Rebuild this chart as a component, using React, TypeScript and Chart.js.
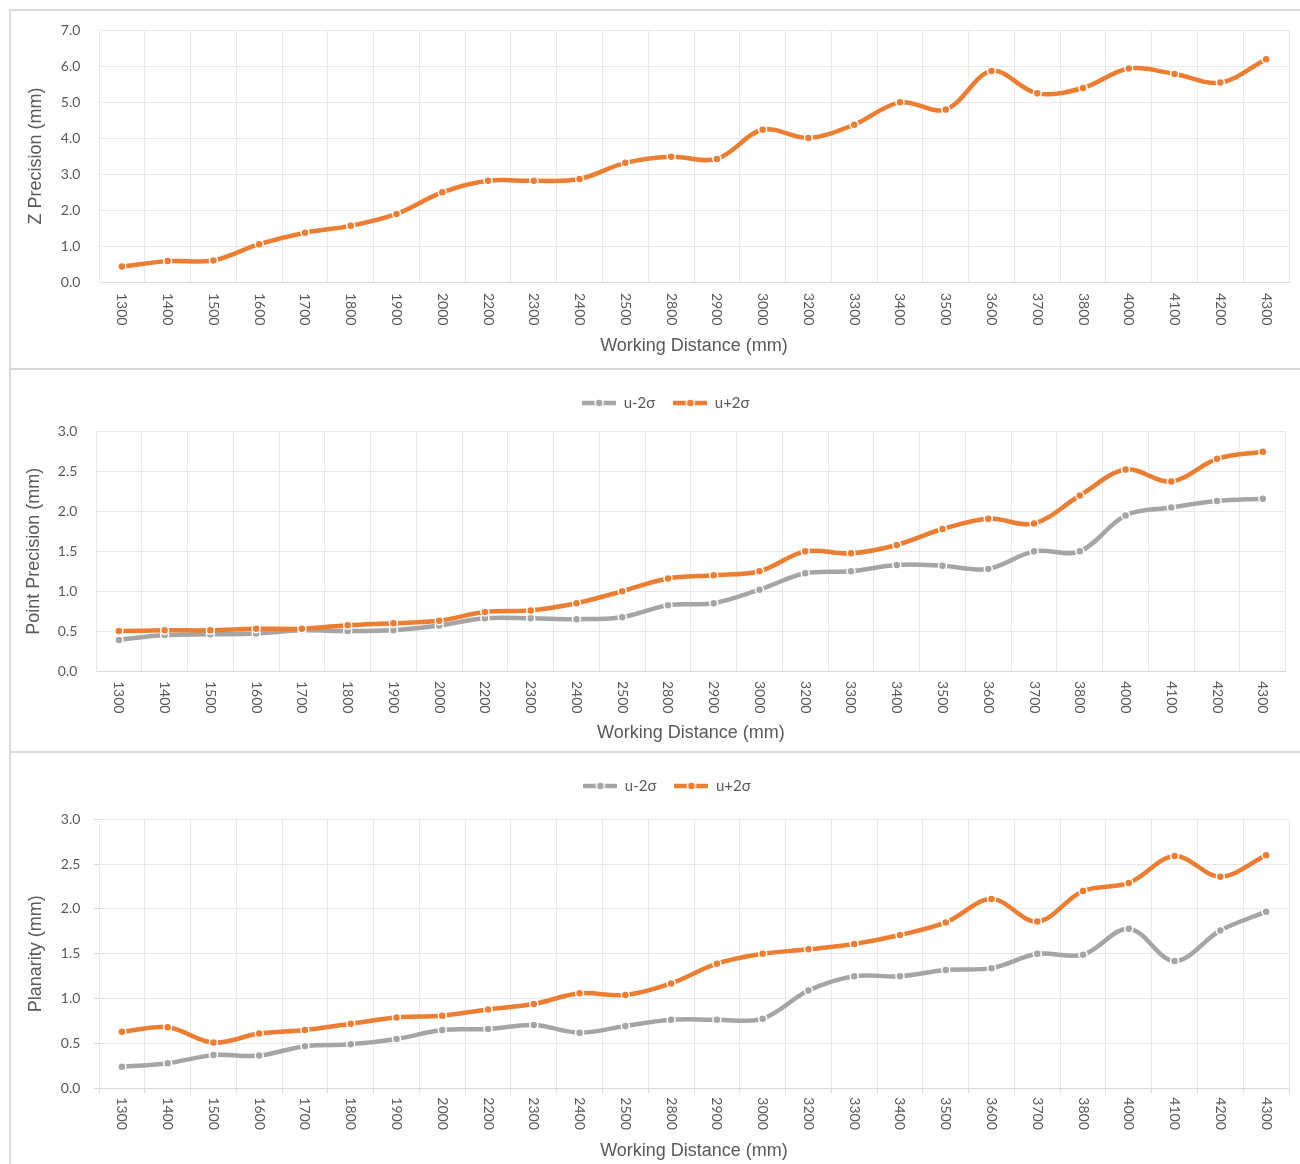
import React, { useEffect, useRef } from 'react';
import { Chart, registerables } from 'chart.js';

Chart.register(...registerables);

const categories = ['1300', '1400', '1500', '1600', '1700', '1800', '1900', '2000', '2200', '2300', '2400', '2500', '2800', '2900', '3000', '3200', '3300', '3400', '3500', '3600', '3700', '3800', '4000', '4100', '4200', '4300'];

const zPrecision = [0.43, 0.58, 0.60, 1.05, 1.37, 1.56, 1.89, 2.49, 2.81, 2.81, 2.86, 3.31, 3.48, 3.42, 4.23, 4.0, 4.37, 4.99, 4.79, 5.86, 5.24, 5.39, 5.93, 5.78, 5.54, 6.19];

const pointLow = [0.39, 0.45, 0.46, 0.47, 0.51, 0.50, 0.51, 0.57, 0.66, 0.66, 0.65, 0.675, 0.825, 0.85, 1.02, 1.225, 1.25, 1.33, 1.32, 1.28, 1.50, 1.50, 1.95, 2.05, 2.13, 2.16];
const pointHigh = [0.50, 0.51, 0.51, 0.53, 0.53, 0.575, 0.60, 0.63, 0.74, 0.76, 0.85, 1.00, 1.16, 1.20, 1.25, 1.50, 1.475, 1.58, 1.78, 1.91, 1.85, 2.20, 2.525, 2.375, 2.66, 2.75];

const planLow = [0.24, 0.28, 0.37, 0.365, 0.47, 0.49, 0.55, 0.65, 0.66, 0.705, 0.62, 0.695, 0.765, 0.765, 0.776, 1.09, 1.25, 1.25, 1.32, 1.34, 1.50, 1.49, 1.78, 1.42, 1.76, 1.97];
const planHigh = [0.63, 0.68, 0.51, 0.61, 0.65, 0.72, 0.79, 0.81, 0.88, 0.94, 1.06, 1.04, 1.17, 1.39, 1.50, 1.55, 1.61, 1.71, 1.85, 2.11, 1.86, 2.20, 2.29, 2.59, 2.36, 2.60];

const seriesNames = ['u-2σ', 'u+2σ'];
const xTitle = 'Working Distance (mm)';

const ORANGE = '#ED7D31';
const GRAY = '#A5A5A5';
const TEXT = '#595959';
const GRID = '#e8e8e8';
const AXIS = '#d9d9d9';

function makeIcon(color: string) {
  const c = document.createElement('canvas');
  c.width = 34;
  c.height = 12;
  const g = c.getContext('2d')!;
  g.strokeStyle = color;
  g.lineWidth = 4.5;
  g.beginPath();
  g.moveTo(0, 6);
  g.lineTo(34, 6);
  g.stroke();
  g.beginPath();
  g.arc(17, 6, 4, 0, Math.PI * 2);
  g.fillStyle = color;
  g.fill();
  g.lineWidth = 1.5;
  g.strokeStyle = '#ffffff';
  g.stroke();
  return c;
}

function lineDataset(label: string, data: number[], color: string, order: number) {
  return {
    label,
    data,
    borderColor: color,
    backgroundColor: color,
    borderWidth: 4.5,
    tension: 0.35,
    fill: false,
    pointRadius: 4,
    pointHoverRadius: 4,
    pointBorderColor: '#ffffff',
    pointBorderWidth: 1.5,
    pointBackgroundColor: color,
    order,
  };
}

type PanelCfg = {
  top: number;
  width: number;
  height: number;
  yTitle: string;
  yMax: number;
  yStep: number;
  datasets: any[];
  legend: boolean;
  padTop: number;
  legendExtra: number;
  legendDx: number;
  yWidth: number;
  rightPad: number;
  xHeight: number;
  xTitlePad: number;
  yTitlePad: number;
  yTickPad: number;
  drawTicks: boolean;
  labelGap: number;
};

const xLabelPlugin = (gap: number) => ({
  id: 'xLabels',
  afterDraw(chart: any) {
    const xs = chart.scales.x;
    const ctx = chart.ctx;
    ctx.save();
    ctx.font = '14px Lato';
    ctx.fillStyle = TEXT;
    ctx.textAlign = 'left';
    ctx.textBaseline = 'middle';
    xs.ticks.forEach((t: any, i: number) => {
      const x = xs.getPixelForTick(i);
      ctx.save();
      ctx.translate(x, chart.chartArea.bottom + gap);
      ctx.rotate(Math.PI / 2);
      ctx.fillText(String(xs.getLabelForValue(t.value)), 0, 0);
      ctx.restore();
    });
    ctx.restore();
  },
});

const legendSpacer = (extra: number, dx: number) => ({
  id: 'legendSpacer',
  afterInit(chart: any) {
    const lg = chart.legend;
    if (!lg || !extra) return;
    const origFit = lg.fit.bind(lg);
    lg.fit = function () {
      origFit();
      this.height += extra;
    };
    const origDraw = lg.draw.bind(lg);
    lg.draw = function () {
      this.left += dx;
      this.right += dx;
      origDraw();
      this.left -= dx;
      this.right -= dx;
    };
  },
});

function ChartPanel({ cfg }: { cfg: PanelCfg }) {
  const ref = useRef<HTMLCanvasElement>(null);
  useEffect(() => {
    if (!ref.current) return;
    const icons = [makeIcon(GRAY), makeIcon(ORANGE)];
    const chart = new Chart(ref.current, {
      type: 'line',
      data: { labels: categories, datasets: cfg.datasets },
      options: {
        animation: false,
        responsive: false,
        maintainAspectRatio: false,
        layout: { padding: { top: cfg.padTop, right: cfg.rightPad, bottom: 0, left: 0 } },
        plugins: {
          legend: {
            display: cfg.legend,
            position: 'top',
            labels: {
              usePointStyle: true,
              pointStyleWidth: 34,
              padding: 18,
              color: TEXT,
              font: { family: 'Lato', size: 15 },
              generateLabels: (ch: any) => {
                const items = (Chart.defaults.plugins.legend.labels as any).generateLabels(ch);
                items.sort((a: any, b: any) => a.datasetIndex - b.datasetIndex);
                items.forEach((it: any) => {
                  it.pointStyle = icons[it.datasetIndex];
                });
                return items;
              },
            },
          },
          tooltip: { enabled: false },
        },
        scales: {
          x: {
            type: 'category',
            offset: true,
            grid: { offset: true, color: GRID, drawTicks: cfg.drawTicks, tickLength: 5, tickColor: AXIS },
            border: { color: AXIS, width: 1 },
            ticks: { display: false },
            title: {
              display: true,
              text: xTitle,
              color: TEXT,
              font: { family: 'Liberation Sans', size: 18 },
              padding: { top: 0, bottom: cfg.xTitlePad },
            },
            afterFit: (s: any) => {
              s.height = cfg.xHeight;
            },
          },
          y: {
            min: 0,
            max: cfg.yMax,
            ticks: {
              stepSize: cfg.yStep,
              color: TEXT,
              font: { family: 'Lato', size: 14 },
              padding: cfg.yTickPad,
              callback: (v: any) => Number(v).toFixed(1),
            },
            grid: { color: GRID, drawTicks: cfg.drawTicks, tickLength: 5, tickColor: AXIS },
            border: { color: GRID, width: 1 },
            title: {
              display: true,
              text: cfg.yTitle,
              color: TEXT,
              font: { family: 'Liberation Sans', size: 18 },
              padding: { top: cfg.yTitlePad, bottom: 0 },
            },
            afterFit: (s: any) => {
              s.width = cfg.yWidth;
              s.paddingTop = 0;
              s.paddingBottom = 0;
            },
          },
        },
      } as any,
      plugins: [xLabelPlugin(cfg.labelGap), legendSpacer(cfg.legendExtra, cfg.legendDx)],
    });
    return () => chart.destroy();
  }, []);
  return (
    <canvas
      ref={ref}
      width={cfg.width}
      height={cfg.height}
      style={{ position: 'absolute', left: 12, top: cfg.top, width: cfg.width, height: cfg.height }}
    />
  );
}

const panels: PanelCfg[] = [
  {
    top: 12, width: 1308, height: 356, yTitle: 'Z Precision (mm)', yMax: 7, yStep: 1,
    datasets: [lineDataset('Z Precision', zPrecision, ORANGE, 0)],
    legend: false, padTop: 18, legendExtra: 0, legendDx: 0, yWidth: 87, rightPad: 31, xHeight: 86,
    xTitlePad: 11.2, yTitlePad: 13.2, yTickPad: 18.7, drawTicks: false, labelGap: 11,
  },
  {
    top: 371, width: 1308, height: 380, yTitle: 'Point Precision (mm)', yMax: 3, yStep: 0.5,
    datasets: [lineDataset(seriesNames[0], pointLow, GRAY, 1), lineDataset(seriesNames[1], pointHigh, ORANGE, 0)],
    legend: true, padTop: 6.5, legendExtra: 11.2, legendDx: 17, yWidth: 84, rightPad: 34.3, xHeight: 80,
    xTitlePad: 7.2, yTitlePad: 11.7, yTickPad: 18.7, drawTicks: false, labelGap: 10,
  },
  {
    top: 755, width: 1308, height: 409, yTitle: 'Planarity (mm)', yMax: 3, yStep: 0.5,
    datasets: [lineDataset(seriesNames[0], planLow, GRAY, 1), lineDataset(seriesNames[1], planHigh, ORANGE, 0)],
    legend: true, padTop: 5.5, legendExtra: 15.8, legendDx: 16.5, yWidth: 87, rightPad: 31, xHeight: 75.7,
    xTitlePad: 2.2, yTitlePad: 13.2, yTickPad: 13.7, drawTicks: true, labelGap: 9,
  },
];

export default function App() {
  const border = `2px solid ${AXIS}`;
  return (
    <div style={{ position: 'absolute', left: 0, top: 0, width: 1300, height: 1164, overflow: 'hidden', background: '#ffffff' }}>
      <div style={{ position: 'absolute', left: 9, top: 9, width: 1380, height: 359, boxSizing: 'border-box', borderTop: border, borderLeft: border, borderRight: border }} />
      <div style={{ position: 'absolute', left: 9, top: 368, width: 1380, height: 383, boxSizing: 'border-box', borderTop: border, borderLeft: border, borderRight: border }} />
      <div style={{ position: 'absolute', left: 9, top: 751, width: 1380, height: 500, boxSizing: 'border-box', borderTop: border, borderLeft: border, borderRight: border }} />
      {panels.map((p, i) => (
        <ChartPanel key={i} cfg={p} />
      ))}
    </div>
  );
}
